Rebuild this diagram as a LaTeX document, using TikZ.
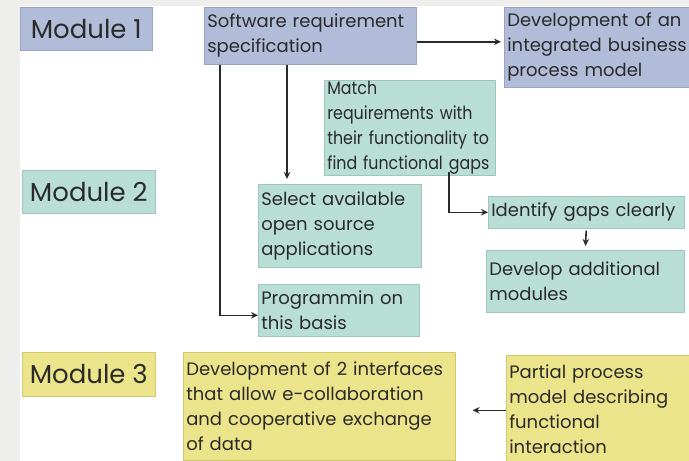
\documentclass[tikz,border=0pt]{standalone}
\usepackage{fontspec}
\setmainfont{Poppins}
\usetikzlibrary{arrows.meta}
\definecolor{bgGrey}{HTML}{EEEEEC}
\definecolor{modBlue}{HTML}{B0BCD8}
\definecolor{modBlueEdge}{HTML}{98A4C2}
\definecolor{modTeal}{HTML}{B8DED6}
\definecolor{modTealEdge}{HTML}{9CC6BE}
\definecolor{modYellow}{HTML}{ECE48A}
\definecolor{modYellowEdge}{HTML}{D2C96E}
\definecolor{inkDark}{HTML}{2A2A2A}
\tikzset{
  box/.style={draw, line width=0.6pt, anchor=north west, align=left,
    inner xsep=3pt, inner ysep=1pt, text=inkDark,
    font=\fontsize{18}{25}\selectfont},
  bluebox/.style={box, fill=modBlue, draw=modBlueEdge},
  tealbox/.style={box, fill=modTeal, draw=modTealEdge},
  yellowbox/.style={box, fill=modYellow, draw=modYellowEdge},
  modlabel/.style={align=center, font=\fontsize{26}{30}\selectfont},
  narrowtext/.style={font=\fontsize{18}{25}\selectfont\addfontfeature{FakeStretch=0.88}},
  arr/.style={draw=inkDark, line width=1.6pt, -{Stealth[length=7pt,width=6.5pt]}}
}
\begin{document}
\begin{tikzpicture}[x=1pt,y=-1pt]
\useasboundingbox (0,0) rectangle (689,461);
\clip (0,0) rectangle (689,461);
\fill[bgGrey] (0,0) rectangle (689,461);
\fill[white] (20,6) rectangle (689,461);

% Module labels
\node[bluebox, modlabel, minimum width=132, minimum height=43] (m1) at (20,7) {Module 1};
\node[tealbox, modlabel, minimum width=133, minimum height=43] (m2) at (22,170) {Module 2};
\node[yellowbox, modlabel, minimum width=133, minimum height=44] (m3) at (22,352) {Module 3};

% Module 1 boxes
\node[bluebox, text width=206, minimum height=57] (srs) at (204,7) {Software requirement\\specification};
\node[bluebox, text width=200, minimum height=80] (dev1) at (504,7) {Development of an\\integrated business\\process model};

% Module 2 boxes
\node[tealbox, narrowtext, text width=165, minimum height=90] (match) at (324,80) {Match\\requirements with\\their functionality to\\find functional gaps};
\node[tealbox, text width=157, minimum height=83] (sel) at (258,184) {Select available\\open source\\applications};
\node[tealbox, text width=190, minimum height=32] (ident) at (488,196) {Identify gaps clearly};
\node[tealbox, text width=192, minimum height=62] (dev2) at (486,250) {Develop additional\\modules};
\node[tealbox, text width=155, minimum height=52] (prog) at (258,284) {Programmin on\\this basis};

% Module 3 boxes
\node[yellowbox, text width=266, minimum height=108] (dev3) at (183,352) {Development of 2 interfaces\\that allow e-collaboration\\and cooperative exchange\\of data};
\node[yellowbox, text width=190, minimum height=108] (partial) at (506,355) {Partial process\\model describing\\functional\\interaction};

% Connectors
\draw[arr, shorten >=3pt] ([yshift=-6]srs.east) -- ([yshift=-6]srs.east -| dev1.west);
\draw[arr] ([xshift=16]srs.south west) |- ([yshift=-5]prog.west);
\draw[arr, shorten >=5pt] ([xshift=83]srs.south west) -- ([xshift=29]sel.north west);
\draw[arr] ([xshift=125,yshift=4]match.south west) |- (ident.west);
\draw[arr, shorten <=2pt, shorten >=4pt] (ident.south) -- (dev2.north);
\draw[arr, shorten >=17pt] ([yshift=-1]partial.west) -- ([yshift=-1]partial.west -| dev3.east);
\end{tikzpicture}
\end{document}
